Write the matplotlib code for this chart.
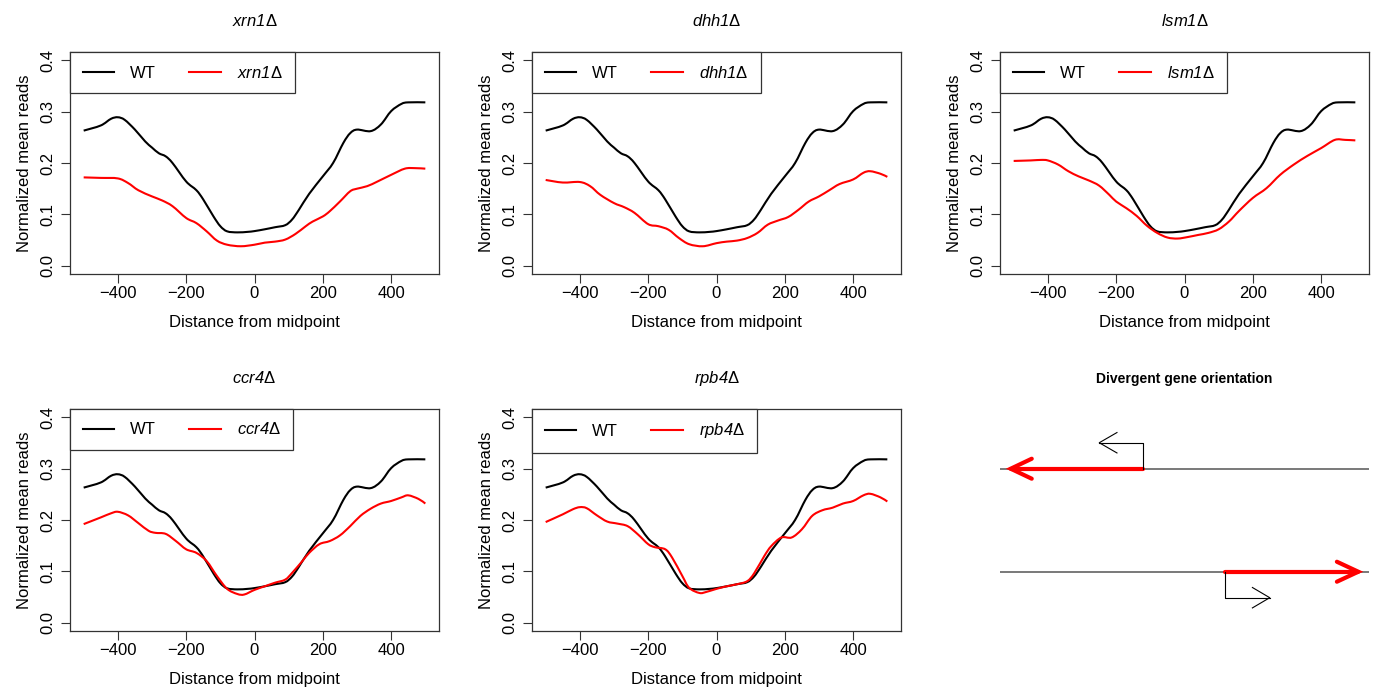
import matplotlib
matplotlib.use("Agg")
import matplotlib.pyplot as plt
from matplotlib.path import Path
from matplotlib.patches import PathPatch
from matplotlib.lines import Line2D

plt.rcParams['font.family'] = ['Liberation Sans', 'DejaVu Sans']
# strain names are set in italics with an upright Delta
plt.rcParams['mathtext.fontset'] = 'custom'
plt.rcParams['mathtext.rm'] = 'Liberation Sans:italic'
plt.rcParams['mathtext.it'] = 'Liberation Sans:italic'
plt.rcParams['mathtext.sf'] = 'Liberation Sans'

# wild type profile (same in every panel)
wt_x = [-500, -450, -420, -400, -380, -350, -320, -300, -280, -260, -240, -200,
        -170, -150, -120, -100, -80, -50, -20, 0, 30, 60, 90, 110, 130, 160,
        200, 230, 260, 280, 300, 340, 370, 400, 430, 450, 500]
wt_y = [0.263, 0.273, 0.286, 0.289, 0.284, 0.265, 0.242, 0.230, 0.219, 0.213,
        0.200, 0.164, 0.147, 0.129, 0.096, 0.077, 0.067, 0.065, 0.066, 0.0675,
        0.071, 0.075, 0.079, 0.090, 0.109, 0.140, 0.174, 0.200, 0.239, 0.258,
        0.265, 0.262, 0.275, 0.301, 0.315, 0.318, 0.318]

xrn1_x = [-500, -450, -400, -370, -340, -300, -270, -240, -200, -170, -140, -110,
          -80, -40, 0, 30, 60, 90, 120, 150, 170, 200, 220, 250, 280, 300, 330,
          360, 400, 440, 470, 500]
xrn1_y = [0.172, 0.171, 0.170, 0.161, 0.147, 0.135, 0.127, 0.116, 0.093, 0.083,
          0.067, 0.049, 0.041, 0.038, 0.041, 0.045, 0.047, 0.051, 0.062, 0.077,
          0.086, 0.096, 0.106, 0.125, 0.145, 0.150, 0.155, 0.164, 0.177, 0.189,
          0.190, 0.189]

dhh1_x = [-500, -450, -400, -370, -340, -300, -270, -240, -200, -170, -140, -110,
          -80, -40, 0, 30, 60, 90, 120, 150, 180, 210, 240, 270, 300, 330, 360,
          400, 430, 450, 480, 500]
dhh1_y = [0.167, 0.162, 0.163, 0.155, 0.138, 0.122, 0.114, 0.103, 0.081, 0.077,
          0.070, 0.054, 0.042, 0.038, 0.044, 0.047, 0.049, 0.054, 0.064, 0.080,
          0.088, 0.095, 0.109, 0.125, 0.135, 0.147, 0.159, 0.168, 0.181, 0.184,
          0.179, 0.173]

lsm1_x = [-500, -450, -420, -400, -370, -340, -310, -280, -250, -220, -200, -170,
          -140, -110, -80, -50, -20, 10, 40, 70, 100, 130, 160, 200, 240, 280,
          320, 360, 400, 440, 470, 500]
lsm1_y = [0.204, 0.205, 0.206, 0.205, 0.197, 0.184, 0.174, 0.166, 0.156, 0.138,
          0.125, 0.112, 0.097, 0.078, 0.064, 0.055, 0.053, 0.056, 0.060, 0.064,
          0.071, 0.086, 0.107, 0.132, 0.151, 0.177, 0.197, 0.214, 0.229, 0.245,
          0.245, 0.244]

ccr4_x = [-500, -450, -420, -400, -370, -340, -310, -290, -260, -230, -200, -170,
          -140, -110, -80, -50, -30, 0, 30, 60, 90, 110, 140, 160, 190, 220, 250,
          280, 310, 340, 370, 400, 430, 450, 480, 500]
ccr4_y = [0.192, 0.205, 0.213, 0.216, 0.209, 0.194, 0.179, 0.175, 0.173, 0.159,
          0.143, 0.136, 0.120, 0.091, 0.066, 0.056, 0.055, 0.064, 0.071, 0.078,
          0.084, 0.097, 0.120, 0.136, 0.153, 0.159, 0.170, 0.188, 0.208, 0.222,
          0.232, 0.237, 0.244, 0.248, 0.241, 0.232]

rpb4_x = [-500, -450, -420, -400, -380, -350, -320, -290, -260, -230, -200, -180,
          -150, -130, -100, -80, -50, -30, 0, 30, 60, 90, 110, 140, 160, 190, 220,
          250, 280, 310, 340, 370, 400, 430, 450, 480, 500]
rpb4_y = [0.196, 0.211, 0.221, 0.225, 0.223, 0.209, 0.197, 0.193, 0.188, 0.172,
          0.153, 0.147, 0.143, 0.127, 0.091, 0.068, 0.058, 0.060, 0.066, 0.071,
          0.075, 0.081, 0.096, 0.130, 0.149, 0.166, 0.166, 0.182, 0.208, 0.219,
          0.224, 0.232, 0.237, 0.248, 0.251, 0.244, 0.236]

mutants = ['xrn1', 'dhh1', 'lsm1', 'ccr4', 'rpb4']
mutant_data = [(xrn1_x, xrn1_y), (dhh1_x, dhh1_y), (lsm1_x, lsm1_y),
               (ccr4_x, ccr4_y), (rpb4_x, rpb4_y)]

x_ticks = [-400, -200, 0, 200, 400]
y_ticks = [0.0, 0.1, 0.2, 0.3, 0.4]

W, H = 1377, 687
fig = plt.figure(figsize=(W / 100, H / 100), dpi=100)

col_left = [70, 532, 1000]
row_top = [52, 409]
box_w, box_h = 369, 222


def add_box(col, row):
    left = col_left[col]
    top = row_top[row]
    return fig.add_axes([left / W, 1 - (top + box_h) / H, box_w / W, box_h / H])


def mut_label(name):
    return r'$' + name + r'\mathsf{\Delta}$'


def smooth_line(ax, xs, ys, color):
    # Catmull-Rom style bezier path through the profile points
    pts = list(zip(xs, ys))
    n = len(pts)
    verts = [pts[0]]
    codes = [Path.MOVETO]
    for i in range(n - 1):
        p0 = pts[max(i - 1, 0)]
        p1 = pts[i]
        p2 = pts[i + 1]
        p3 = pts[min(i + 2, n - 1)]
        c1 = (p1[0] + (p2[0] - p0[0]) / 6, p1[1] + (p2[1] - p0[1]) / 6)
        c2 = (p2[0] - (p3[0] - p1[0]) / 6, p2[1] - (p3[1] - p1[1]) / 6)
        verts += [c1, c2, p2]
        codes += [Path.CURVE4] * 3
    ax.add_patch(PathPatch(Path(verts, codes), facecolor='none', edgecolor=color,
                           lw=1.5, capstyle='butt'))


for i, (name, (mx, my)) in enumerate(zip(mutants, mutant_data)):
    ax = add_box(i % 3, i // 3)
    smooth_line(ax, wt_x, wt_y, 'black')
    smooth_line(ax, mx, my, 'red')
    ax.set_xlim(-540, 540)
    ax.set_ylim(-0.016, 0.416)
    ax.set_xticks(x_ticks)
    ax.set_xticklabels(['\u2212400', '\u2212200', '0', '200', '400'])
    ax.set_yticks(y_ticks)
    ax.set_yticklabels(['0.0', '0.1', '0.2', '0.3', '0.4'], rotation=90, va='center')
    ax.tick_params(labelsize=12, length=6.5, width=0.8, color='#333333')
    ax.tick_params(axis='x', pad=2)
    ax.tick_params(axis='y', pad=4)
    for sp in ax.spines.values():
        sp.set_linewidth(0.9)
        sp.set_color('#333333')
    ax.set_xlabel('Distance from midpoint', fontsize=12, labelpad=10)
    ax.set_ylabel('Normalized mean reads', fontsize=12, labelpad=6)
    ax.set_title(mut_label(name), fontsize=12, pad=19)
    handles = [Line2D([], [], color='black', lw=1.5),
               Line2D([], [], color='red', lw=1.5)]
    leg = ax.legend(handles, ['WT', mut_label(name)], loc='upper left', ncol=2,
                    fontsize=12, frameon=True, fancybox=False, borderaxespad=0,
                    framealpha=1, edgecolor='#333333', handlelength=1.9,
                    handletextpad=0.95, columnspacing=2.0, borderpad=0.75)
    leg.get_frame().set_linewidth(0.9)

# schematic of two divergently oriented genes
ax = add_box(2, 1)
ax.set_xlim(0, 1)
ax.set_ylim(0, 1)
ax.axis('off')
ax.set_title('Divergent gene orientation', fontsize=10, fontweight='bold', pad=19)

top_y, bot_y = 0.731, 0.267
ax.plot([0, 1], [top_y, top_y], color='#555555', lw=1.1)
ax.plot([0, 1], [bot_y, bot_y], color='#555555', lw=1.1)

# gene on the upper strand, pointing left
ax.plot([0.388, 0.029], [top_y, top_y], color='red', lw=3, solid_capstyle='round')
ax.plot([0.086, 0.029, 0.086], [top_y + 0.045, top_y, top_y - 0.045], color='red', lw=3,
        solid_capstyle='round', solid_joinstyle='miter')
ax.plot([0.388, 0.388, 0.269], [top_y, 0.848, 0.848], color='black', lw=0.8)
ax.plot([0.317, 0.269, 0.317], [0.848 + 0.046, 0.848, 0.848 - 0.046], color='black', lw=0.8)

# gene on the lower strand, pointing right
ax.plot([0.611, 0.971], [bot_y, bot_y], color='red', lw=3, solid_capstyle='round')
ax.plot([0.913, 0.971, 0.913], [bot_y + 0.045, bot_y, bot_y - 0.045], color='red', lw=3,
        solid_capstyle='round', solid_joinstyle='miter')
ax.plot([0.611, 0.611, 0.731], [bot_y, 0.150, 0.150], color='black', lw=0.8)
ax.plot([0.684, 0.731, 0.684], [0.150 + 0.046, 0.150, 0.150 - 0.046], color='black', lw=0.8)

fig.savefig('out.png', dpi=100)
